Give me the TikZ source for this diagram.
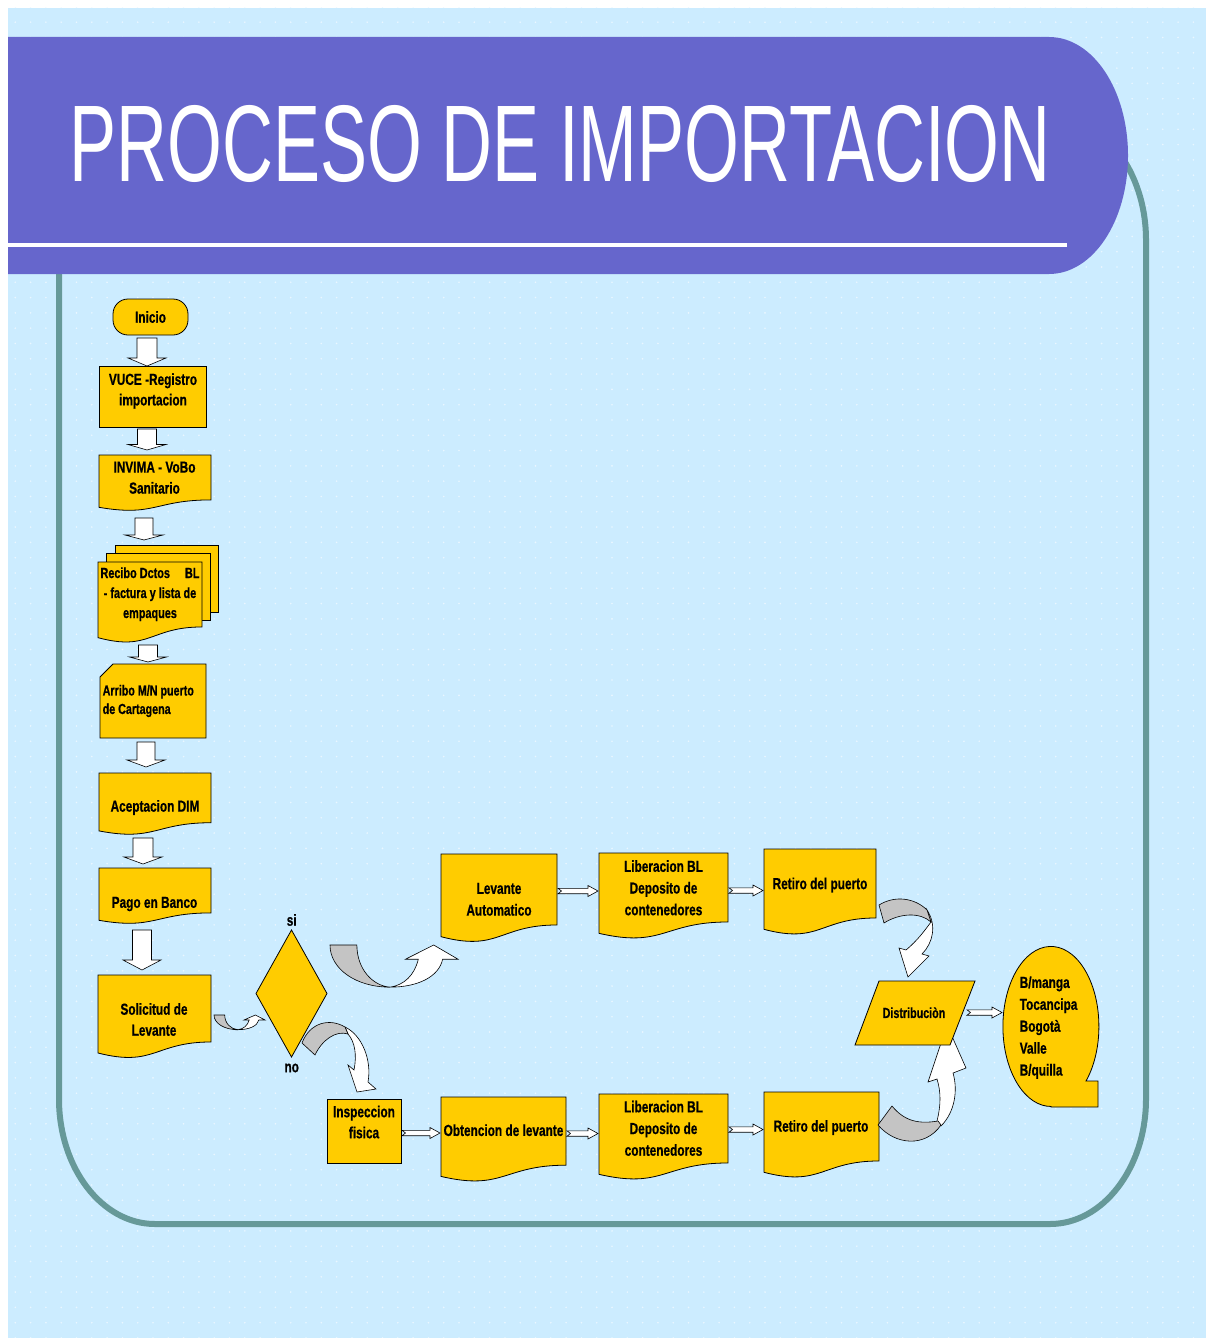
\documentclass[tikz,border=0pt]{standalone}
\usepackage{fontspec}
\setmainfont{Liberation Sans}
\newfontfamily\nar{Liberation Sans}[FakeStretch=0.74,FakeBold=0.6]
\newfontfamily\titlefont{Liberation Sans}[FakeStretch=0.647]
\usetikzlibrary{calc,patterns.meta}
\definecolor{bgblue}{RGB}{204,236,255}
\definecolor{dotc}{RGB}{234,247,255}
\definecolor{hdr}{RGB}{102,102,204}
\definecolor{framec}{RGB}{102,153,153}
\definecolor{gold}{RGB}{255,204,0}
\definecolor{bandgray}{RGB}{196,196,196}
\tikzset{
  shp/.style={fill=gold, draw=black, line width=0.8pt},
  hitbox/.style={inner sep=0pt, outer sep=0pt, draw=none},
  lbl/.style={inner sep=0pt, align=center, text=black, font=\nar\bfseries\fontsize{16}{21.5}\selectfont},
  lblsm/.style={inner sep=0pt, align=center, text=black, font=\nar\bfseries\fontsize{14.7}{20}\selectfont},
  blk/.style={fill=white, draw=black, line width=0.6pt},
  band/.style={fill=bandgray, draw=black, line width=0.6pt},
}
% document shape: name, x, y, w, h
\newcommand{\docshape}[5]{%
  \draw[shp] (#2,#3) -- ({#2+#4},#3) -- ({#2+#4},{#3+0.802*#5})
    .. controls ({#2+0.5*#4},{#3+0.802*#5}) and ({#2+0.5*#4},{#3+1.1075*#5}) .. (#2,{#3+0.934*#5}) -- cycle;
  \node[hitbox, minimum width=#4, minimum height=#5] (#1) at ({#2+0.5*#4},{#3+0.5*#5}) {};}
% process rectangle: name, x, y, w, h
\newcommand{\procbox}[5]{%
  \draw[shp] (#2,#3) rectangle ({#2+#4},{#3+#5});
  \node[hitbox, minimum width=#4, minimum height=#5] (#1) at ({#2+0.5*#4},{#3+0.5*#5}) {};}
% vertical block arrow: start, end, shaft half width, head half width, head length
\newcommand{\varr}[5]{%
  \draw[blk] let \p1=#1, \p2=#2 in
   ({\x1-#3pt},\y1) -- ({\x1+#3pt},\y1) -- ({\x1+#3pt},{\y2+#5pt}) -- ({\x1+#4pt},{\y2+#5pt})
   -- (\x1,\y2) -- ({\x1-#4pt},{\y2+#5pt}) -- ({\x1-#3pt},{\y2+#5pt}) -- cycle;}
% horizontal notched arrow: from node, to node, y, start offset
\newcommand{\harr}[4]{%
  \draw[blk] let \p1=(#1.east |- 0,#3), \p2=(#2.west |- 0,#3) in
   ({\x1+(#4pt)},{\y1+2.7pt}) -- ({\x2-11pt},{\y1+2.7pt}) -- ({\x2-11pt},{\y1+5.5pt}) -- ({\x2-1pt},\y1)
   -- ({\x2-11pt},{\y1-5.5pt}) -- ({\x2-11pt},{\y1-2.7pt}) -- ({\x1+(#4pt)},{\y1-2.7pt})
   -- ({\x1+(#4pt)+3.5pt},\y1) -- cycle;}
% curved up arrow in a box: x, y, w, h
\newcommand{\curvup}[4]{%
  \begin{scope}[shift={(#1,#2)}, xscale=#3, yscale=#4]
    \draw[blk] (0.47,0.98) .. controls (0.68,0.98) and (0.85,0.75) .. (0.88,0.33) -- (1,0.33) -- (0.81,0)
      -- (0.59,0.33) -- (0.69,0.33) .. controls (0.66,0.7) and (0.58,0.93) .. (0.47,0.98) -- cycle;
    \draw[band] (0,0) .. controls (0,0.55) and (0.2,0.98) .. (0.47,0.98)
      .. controls (0.33,0.95) and (0.21,0.55) .. (0.21,0) -- cycle;
  \end{scope}}

\begin{document}
\begin{tikzpicture}[x=1pt,y=-1pt]
\useasboundingbox (0,0) rectangle (1206,1338);
% background
\fill[white] (0,0) rectangle (1206,1338);
\fill[bgblue] (8,8) rectangle (1206,1338);
\fill[pattern={Dots[distance=15.3pt,radius=0.9pt]}, pattern color=dotc] (8,8) rectangle (1206,1338);
% frame
\draw[framec, line width=6pt] (59,240) -- (59,1099) .. controls (59,1168) and (102,1224) .. (155,1224)
  -- (1050,1224) .. controls (1103,1224) and (1146,1168) .. (1146,1099) -- (1146,240)
  .. controls (1146,171) and (1103,115) .. (1050,115) -- (155,115)
  .. controls (102,115) and (59,171) .. (59,240) -- cycle;
% header
\fill[hdr] (8,37) -- (1049,37) .. controls (1093,37) and (1128,90) .. (1128,155.5)
  .. controls (1128,221) and (1093,274) .. (1049,274) -- (8,274) -- cycle;
\fill[white] (8,243) rectangle (1067,247);
\node[anchor=base, text=white, inner sep=0pt, font=\titlefont\fontsize{109}{109}\selectfont] (title) at (560,181) {PROCESO DE IMPORTACION};

% ---- left column ----
\draw[shp, rounded corners=15pt] (113,299) rectangle (188,335);
\node[hitbox, minimum width=75, minimum height=36] (inicio) at (150.5,317) {};
\node[lbl] (inicio-t) at (150.5,317) {Inicio};

\procbox{vuce}{99}{366}{107}{61}
\node[lbl, font=\nar\bfseries\fontsize{16}{20.5}\selectfont] (vuce-t) at (153,391) {VUCE -Registro\\importacion};

\docshape{invima}{99}{455}{112}{56}
\node[lbl, font=\nar\bfseries\fontsize{16}{21}\selectfont] (invima-t) at (154.5,477.7) {INVIMA - VoBo\\Sanitario};

% multi document
\draw[shp] (115,545) rectangle (218,612);
\draw[shp] (106,553) rectangle (210,620);
\draw[shp] (98,562) -- (202,562) -- (202,{562+0.802*81})
  .. controls (150,{562+0.802*81}) and (150,{562+1.1075*81}) .. (98,{562+0.934*81}) -- cycle;
\node[hitbox, minimum width=120, minimum height=98] (recibo) at (158,594) {};
\node[lblsm] (recibo-t) at (150,594.2) {Recibo Dctos\hspace{15pt}BL\\- factura y lista de\\empaques};

% card
\draw[shp] (100,677) -- (113,664) -- (206,664) -- (206,738) -- (100,738) -- cycle;
\node[hitbox, minimum width=106, minimum height=74] (arribo) at (153,701) {};
\node[lblsm, align=left, anchor=west, font=\nar\bfseries\fontsize{14.5}{18.5}\selectfont] (arribo-t) at (102.5,701) {Arribo M/N puerto\\de Cartagena};

\docshape{acept}{99}{773}{112}{62}
\node[lbl] (acept-t) at (155,807.5) {Aceptacion DIM};

\docshape{pago}{99}{868}{112}{56}
\node[lbl] (pago-t) at (154.5,904) {Pago en Banco};

\docshape{soli}{98}{975}{113}{83.5}
\node[lbl, font=\nar\bfseries\fontsize{16}{21}\selectfont] (soli-t) at (154,1019.5) {Solicitud de\\Levante};

% vertical block arrows
\varr{($(inicio.south)+(-3.5,3)$)}{(vuce.north)}{10}{19}{8}
\varr{($(vuce.south)+(-5.5,2)$)}{($(invima.north)+(0,-5)$)}{9.5}{19}{5.5}
\varr{($(invima.south)+(-11,7)$)}{($(recibo.north)+(0,-5)$)}{9}{19}{5}
\varr{($(recibo.south)+(-10,2)$)}{($(arribo.north)+(0,-2)$)}{9.5}{18.5}{5}
\varr{($(arribo.south)+(-7,4)$)}{($(acept.north)+(0,-6)$)}{9}{19}{7}
\varr{($(acept.south)+(-12,3)$)}{($(pago.north)+(0,-4)$)}{10}{19}{7}
\varr{($(pago.south)+(-13,6)$)}{($(soli.north)+(0,-5)$)}{9.5}{19}{10}

% ---- decision ----
\node[hitbox, minimum width=71, minimum height=127] (dec) at (291.5,993.5) {};
\draw[shp] (dec.north) -- (dec.east) -- (dec.south) -- (dec.west) -- cycle;
\node[lbl] (si) at (291.7,920) {si};
\node[lbl] (no) at (291.7,1068) {no};

% curved arrows near decision
\curvup{214}{1015}{51}{15}
\curvup{330}{945}{128}{43}
% "no" arrow
\draw[blk] (345,1027) .. controls (362,1035) and (372,1060) .. (368,1082) -- (376,1089) -- (357,1092)
  -- (348,1065) -- (354,1070) .. controls (357,1055) and (355,1042) .. (348,1034) -- cycle;
\draw[band] (302,1043) .. controls (310,1022) and (330,1018) .. (345,1027) -- (348,1034)
  .. controls (336,1030) and (322,1040) .. (315,1055) -- cycle;

% ---- right part ----
\docshape{lev}{441}{854}{116}{88.5}
\node[lbl, font=\nar\bfseries\fontsize{16}{21.7}\selectfont] (lev-t) at (499,899.3) {Levante\\Automatico};
\docshape{lib1}{599}{853}{129}{86}
\node[lbl, font=\nar\bfseries\fontsize{16}{21.7}\selectfont] (lib1-t) at (663.5,887.8) {Liberacion BL\\Deposito de\\contenedores};
\docshape{ret1}{764}{849}{112}{86}
\node[lbl] (ret1-t) at (820,885) {Retiro del puerto};

\procbox{insp}{327}{1099}{74}{64}
\node[lbl, font=\nar\bfseries\fontsize{16}{21}\selectfont] (insp-t) at (364,1122) {Inspeccion\\fisica};
\docshape{obt}{441}{1097}{125}{85}
\node[lbl] (obt-t) at (503.5,1130.2) {Obtencion de levante};
\docshape{lib2}{599}{1094}{129}{86}
\node[lbl, font=\nar\bfseries\fontsize{16}{21.7}\selectfont] (lib2-t) at (663.5,1128.3) {Liberacion BL\\Deposito de\\contenedores};
\docshape{ret2}{764}{1092}{115}{86}
\node[lbl] (ret2-t) at (821,1127.5) {Retiro del puerto};

% horizontal arrows
\harr{lev}{lib1}{891}{1}
\harr{lib1}{ret1}{890.5}{1}
\harr{insp}{obt}{1133}{1}
\harr{obt}{lib2}{1133.5}{1}
\harr{lib2}{ret2}{1129.5}{1}

% curved arrows to distribution
\draw[blk] (927,910) .. controls (937,925) and (933,943) .. (922,954) -- (929,956) -- (908,977)
  -- (899,948) -- (906,950) .. controls (918,940) and (925,930) .. (931,922) -- cycle;
\draw[band] (879,905) .. controls (895,895) and (915,898) .. (927,910) -- (931,922)
  .. controls (920,912) and (900,913) .. (884,923) -- cycle;
\draw[blk] (937,1121) .. controls (941,1105) and (941,1092) .. (937,1079) -- (928,1082) -- (947,1025)
  -- (966,1068) -- (953,1073) .. controls (958,1090) and (955,1112) .. (941,1126) -- cycle;
\draw[band] (892,1106) .. controls (905,1122) and (920,1124) .. (938,1121) -- (941,1125)
  .. controls (925,1148) and (895,1145) .. (878,1125) -- cycle;

% distribution
\node[hitbox, minimum width=120, minimum height=64] (distr) at (915,1013) {};
\draw[shp] (879,981) -- (975,981) -- (950,1045) -- (855,1045) -- cycle;
\node[lblsm, font=\nar\bfseries\fontsize{14.5}{20}\selectfont] (distr-t) at (914,1012.7) {Distribuciòn};

% destination (tape shape)
\node[hitbox, minimum width=96, minimum height=160] (dest) at (1051,1027) {};
\draw[shp] (1051,1107) -- (1098,1107) -- (1098,1081) -- (1086,1081)
  arc[start angle=43, end angle=-270, x radius=48, y radius=80] -- cycle;
\node[lbl, align=left, anchor=west, font=\nar\bfseries\fontsize{16}{21.9}\selectfont] (dest-t) at (1019.5,1027.6) {B/manga\\Tocancipa\\Bogotà\\Valle\\B/quilla};

\harr{distr}{dest}{1012.5}{-8}
\end{tikzpicture}
\end{document}
